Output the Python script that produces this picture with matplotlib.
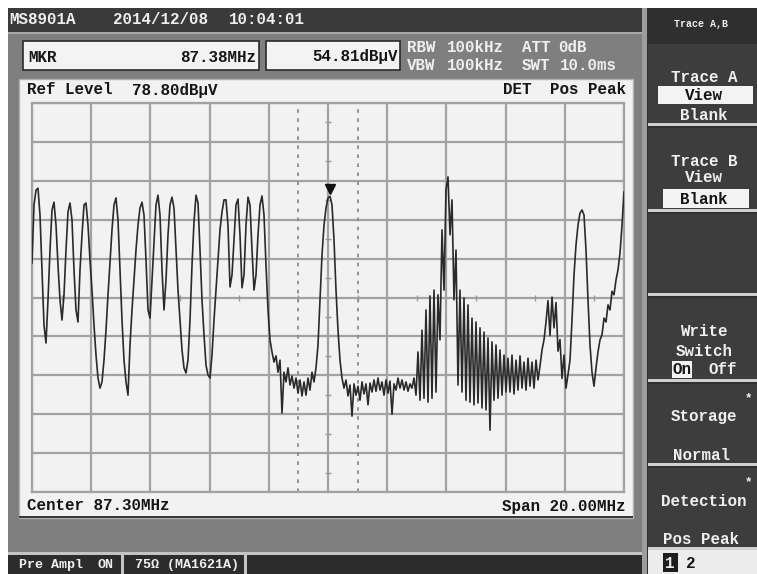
import numpy as np
import matplotlib
matplotlib.use('Agg')
from matplotlib import pyplot as plt
from matplotlib.patches import Rectangle
from matplotlib import transforms

# analyzer settings (from the screen)
center_mhz = 87.30
span_mhz = 20.00
ref_level = 78.80
db_per_div = 10
marker_mhz = 87.38
marker_dbuv = 54.81
window_mhz = [86.30, 88.30]

# trace A, dBuV per sweep point
level_dbuv = [
    37.7, 52.6, 56.4, 56.9, 50.0, 35.9, 21.7, 17.1, 28.2, 41.0,
    51.3, 53.3, 47.4, 37.1, 28.2, 23.0, 29.5, 41.0, 50.8, 53.1,
    48.7, 35.9, 25.6, 22.5, 35.9, 44.9, 52.6, 53.1, 47.4, 38.4,
    30.7, 21.7, 14.0, 8.1, 5.5, 7.1, 12.7, 20.4, 29.5, 37.9,
    46.2, 52.6, 54.4, 48.7, 35.9, 23.0, 12.7, 7.1, 3.7, 16.6,
    25.6, 33.3, 41.0, 47.4, 51.8, 53.3, 50.0, 38.4, 25.6, 23.5,
    33.3, 43.6, 52.6, 55.1, 50.0, 35.9, 25.6, 33.3, 44.9, 52.6,
    54.6, 51.8, 41.0, 30.7, 23.0, 15.3, 10.7, 9.4, 12.7, 23.0,
    37.1, 48.2, 55.1, 53.1, 41.0, 28.2, 19.2, 11.4, 8.9, 8.1,
    14.0, 23.0, 30.7, 38.4, 46.2, 50.8, 53.9, 53.9, 47.4, 31.5,
    34.6, 43.6, 52.6, 54.1, 44.9, 31.3, 34.6, 47.4, 54.6, 52.6,
    41.0, 30.7, 34.6, 44.9, 52.6, 54.9, 50.0, 37.1, 25.6, 17.9,
    14.8, 12.2, 13.8, 9.6, 12.7, -0.9, 9.6, 7.1, 10.7, 6.3,
    8.6, 5.5, 8.1, 4.2, 7.6, 3.5, 7.1, 3.7, 8.1, 5.0,
    9.6, 7.1, 10.7, 16.6, 28.2, 39.7, 47.4, 51.8, 54.4, 54.8,
    52.6, 43.6, 30.7, 20.4, 12.7, 8.1,
    5.5, 7.6, 3.5, 6.3, -1.7, 6.6, 3.7, 6.0, 2.4, 7.1,
    4.0, 6.6, 1.2, 6.8, 4.5, 7.6, 4.7, 8.1, 5.0, 7.1,
    3.7, 7.6, 4.2, 7.3, -1.2, 6.6, 5.0, 8.1, 5.5, 7.6,
    5.0, 7.1, 4.7, 6.6, 5.5, 8.1,
    3.7, 14.8, 2.4, 20.4, 2.9, 25.6, 1.9, 29.2, 2.9, 30.7,
    4.5, 29.5, 17.9, 46.2, 30.7, 56.4, 59.8, 44.9, 53.9, 28.2,
    41.0, 6.3, 30.7, 4.5, 28.7, 2.4, 26.9, 1.9, 23.5, 1.2,
    22.5, 1.7, 21.0, 0.4, 19.9, -0.1, 18.4,
    -5.3, 17.4, 2.4, 16.6, 2.9, 15.3, 3.7, 14.0, 4.5, 13.2,
    4.5, 14.0, 4.0, 12.7, 5.0, 13.8, 5.5, 12.2, 5.0, 13.2,
    6.0, 12.2, 5.5, 12.7, 7.6, 11.2,
    15.3, 17.9, 22.5, 28.0, 19.0, 28.9, 21.0, 27.5, 15.0, 18.0,
    8.0, 14.0, 5.5, 9.0, 12.7, 23.0, 34.6, 42.3, 47.4, 50.5,
    51.3, 50.0, 41.0, 28.2, 16.6, 9.6, 6.0, 10.7, 14.8, 17.9,
    19.2, 23.5, 22.5, 26.9, 25.6, 30.4, 29.5, 33.3, 35.9, 40.2,
    47.4, 55.9,
]

freq_mhz = np.linspace(center_mhz - span_mhz / 2, center_mhz + span_mhz / 2, len(level_dbuv))
bottom_level = ref_level - 10 * db_per_div

FONT = 'Liberation Mono'
W, H = 757, 574
fig = plt.figure(figsize=(W / 100, H / 100), dpi=100, facecolor='white')

# screen drawn in pixel units
scr = fig.add_axes([0, 0, 1, 1])
scr.set_xlim(0, W)
scr.set_ylim(H, 0)
scr.axis('off')


def box(x, y, w, h, fc, ec='none', lw=0):
    scr.add_patch(Rectangle((x, y), w, h, facecolor=fc, edgecolor=ec, linewidth=lw))


def txt(x, y, s, color='#151515', size=11.4, ha='left'):
    scr.text(x, y, s, color=color, fontsize=size, ha=ha, va='center',
             family=FONT, fontweight='bold')


white_txt = '#efefef'
dark = '#3a3a3a'

# main screen areas
box(8, 8, 634, 566, '#7f7f7f')
box(8, 8, 634, 24, dark)
box(8, 32, 634, 2, '#a9a9a9')
box(8, 552, 634, 3, '#c4c4c4')
box(8, 555, 634, 19, '#2c2c2c')
box(121, 555, 3, 19, '#c4c4c4')
box(244, 555, 3, 19, '#c4c4c4')

# header
txt(9, 19, 'MS8901A', white_txt)
txt(113, 19, '2014/12/08', white_txt)
txt(229, 19, '10:04:01', white_txt)

# marker boxes
box(23, 41, 236, 29, '#f3f3f3', '#2a2a2a', 1.2)
box(266, 41, 134, 29, '#f3f3f3', '#2a2a2a', 1.2)
txt(28, 57, 'MKR')
txt(256, 57, '87.38MHz', ha='right')
txt(398, 57, '54.81dBμV', ha='right')
txt(407, 47, 'RBW', white_txt)
txt(447, 47, '100kHz', white_txt)
txt(522, 47, 'ATT', white_txt)
txt(558, 47, '0dB', white_txt)
txt(407, 65, 'VBW', white_txt)
txt(447, 65, '100kHz', white_txt)
txt(522, 65, 'SWT', white_txt)
txt(560, 65, '10.0ms', white_txt)

# plot panel
box(19, 79, 614, 439, '#f2f2f2', '#b0b0b0', 1.0)
box(19, 516, 614, 2, '#3a3a3a')
txt(27, 90, 'Ref Level')
txt(132, 90, '78.80dBμV')
txt(503, 90, 'DET')
txt(626, 90, 'Pos Peak', ha='right')
txt(34, 112, '10dB/')
txt(625, 112, 'Trace-A', ha='right')
txt(27, 506, 'Center 87.30MHz')
txt(626, 506, 'Span 20.00MHz', ha='right')

# bottom status
txt(19, 565, 'Pre Ampl', white_txt, 9.6)
txt(97, 565, 'ON', white_txt, 9.6)
txt(135, 565, '75Ω (MA1621A)', white_txt, 9.6)

# right soft-key panel
box(642, 8, 5, 566, '#9d9d9d')
box(647, 8, 110, 566, '#2f2f2f')
txt(701, 24, 'Trace A,B', white_txt, 7.2, ha='center')
for top, bot in [(44, 123), (128, 209), (214, 293), (298, 379), (384, 463), (468, 547)]:
    box(648, top, 109, bot - top, '#3d3d3d')
    box(648, bot, 109, 3, '#d0d0d0')
cx = 704
txt(cx, 77, 'Trace A', white_txt, ha='center')
box(658, 86, 95, 18, '#f3f3f3')
txt(cx, 95, 'View', ha='center')
txt(cx, 115, 'Blank', white_txt, ha='center')
txt(cx, 162, 'Trace B', white_txt, ha='center')
txt(cx, 178, 'View', white_txt, ha='center')
box(663, 189, 86, 19, '#f3f3f3')
txt(cx, 199, 'Blank', ha='center')
txt(cx, 332, 'Write', white_txt, ha='center')
txt(cx, 351, 'Switch', white_txt, ha='center')
box(672, 361, 20, 17, '#f3f3f3')
txt(682, 369, 'On', ha='center')
txt(723, 369, 'Off', white_txt, ha='center')
txt(748, 398, '*', white_txt, 9, ha='center')
txt(cx, 417, 'Storage', white_txt, ha='center')
txt(701, 456, 'Normal', white_txt, ha='center')
txt(748, 482, '*', white_txt, 9, ha='center')
txt(cx, 502, 'Detection', white_txt, ha='center')
txt(701, 539, 'Pos Peak', white_txt, ha='center')
box(648, 550, 109, 24, '#ececec')
box(663, 553, 15, 19, '#1e1e1e')
txt(670, 563, '1', white_txt, ha='center')
txt(691, 563, '2', ha='center')

# trace area
ax = fig.add_axes([32 / W, 1 - 492 / H, 592 / W, 389 / H])
ax.set_facecolor('#f2f2f2')
ax.set_xlim(freq_mhz[0], freq_mhz[-1])
ax.set_ylim(bottom_level, ref_level)
ax.set_xticks(np.linspace(freq_mhz[0], freq_mhz[-1], 11))
ax.set_yticks(np.linspace(bottom_level, ref_level, 11))
ax.tick_params(length=0, labelbottom=False, labelleft=False)
ax.grid(True, color='#a2a2a2', linewidth=1.6)
for s in ax.spines.values():
    s.set_color('#a2a2a2')
    s.set_linewidth(1.6)

# half-division ticks on the centre cross
mid_level = ref_level - 5 * db_per_div
half_f = np.arange(freq_mhz[0] + span_mhz / 20, freq_mhz[-1], span_mhz / 10)
half_l = np.arange(bottom_level + db_per_div / 2, ref_level, db_per_div)
ax.plot(half_f, np.full(len(half_f), mid_level), ls='none', marker='|', ms=4, color='#9a9a9a', mew=1)
ax.plot(np.full(len(half_l), center_mhz), half_l, ls='none', marker='_', ms=4, color='#9a9a9a', mew=1)

for f in window_mhz:
    ax.axvline(f, color='#8c8c8c', lw=1.3, ls=(0, (2, 3)))

ax.plot(freq_mhz, level_dbuv, color='#2a2a2a', lw=1.2, zorder=3)

up = transforms.offset_copy(ax.transData, fig=fig, x=0, y=5, units='points')
ax.plot(marker_mhz, marker_dbuv, marker='v', ms=7, color='#111111', transform=up, zorder=4)

fig.savefig('out.png', dpi=100)
